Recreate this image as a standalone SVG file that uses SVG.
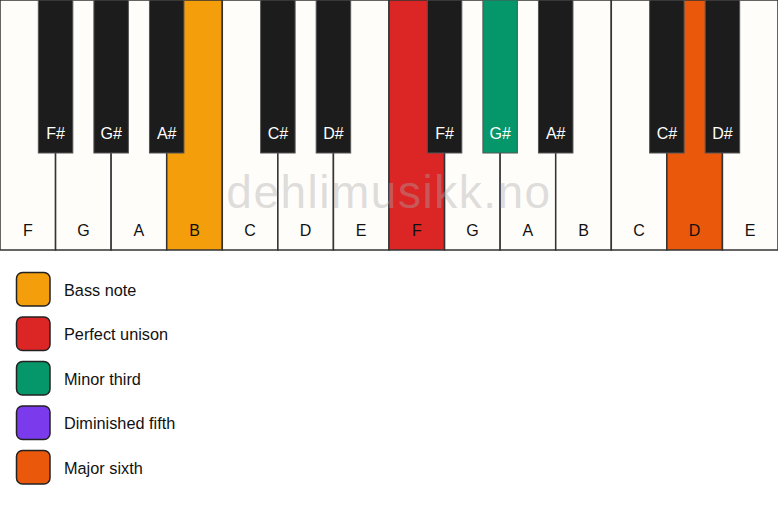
<svg xmlns="http://www.w3.org/2000/svg" width="778" height="506" viewBox="0 0 778 506">
<style>
.w{fill:#fffdf9;stroke:#333;stroke-width:1.5}
.b{fill:#1c1c1c;stroke:#555;stroke-width:1}
.wl{font-family:"Liberation Sans",Arial,sans-serif;font-size:16px;fill:#111;text-anchor:middle}
.bl{font-family:"Liberation Sans",Arial,sans-serif;font-size:16px;fill:#fff;text-anchor:middle}
.sw{stroke:#222;stroke-width:1.5}
.lt{font-family:"Liberation Sans",Arial,sans-serif;font-size:16.3px;fill:#111}
.wm{font-family:"Liberation Sans",Arial,sans-serif;font-size:46px;letter-spacing:1.5px;fill:#aaa;fill-opacity:0.4;text-anchor:middle}
</style>
<rect width="778" height="506" fill="#ffffff"/>
<g id="white-keys">
<g id="wk-F1"><rect class="w" x="0" y="0" width="55.57" height="250"/><text class="wl" x="27.8" y="236">F</text></g>
<g id="wk-G1"><rect class="w" x="55.57" y="0" width="55.57" height="250"/><text class="wl" x="83.4" y="236">G</text></g>
<g id="wk-A1"><rect class="w" x="111.14" y="0" width="55.57" height="250"/><text class="wl" x="138.9" y="236">A</text></g>
<g id="wk-B1"><rect class="w" x="166.71" y="0" width="55.57" height="250" style="fill:#f59e0b"/><text class="wl" x="194.5" y="236">B</text></g>
<g id="wk-C1"><rect class="w" x="222.29" y="0" width="55.57" height="250"/><text class="wl" x="250.1" y="236">C</text></g>
<g id="wk-D1"><rect class="w" x="277.86" y="0" width="55.57" height="250"/><text class="wl" x="305.6" y="236">D</text></g>
<g id="wk-E1"><rect class="w" x="333.43" y="0" width="55.57" height="250"/><text class="wl" x="361.2" y="236">E</text></g>
<g id="wk-F2"><rect class="w" x="389" y="0" width="55.57" height="250" style="fill:#dc2626"/><text class="wl" x="416.8" y="236">F</text></g>
<g id="wk-G2"><rect class="w" x="444.57" y="0" width="55.57" height="250"/><text class="wl" x="472.4" y="236">G</text></g>
<g id="wk-A2"><rect class="w" x="500.14" y="0" width="55.57" height="250"/><text class="wl" x="527.9" y="236">A</text></g>
<g id="wk-B2"><rect class="w" x="555.71" y="0" width="55.57" height="250"/><text class="wl" x="583.5" y="236">B</text></g>
<g id="wk-C2"><rect class="w" x="611.29" y="0" width="55.57" height="250"/><text class="wl" x="639.1" y="236">C</text></g>
<g id="wk-D2"><rect class="w" x="666.86" y="0" width="55.57" height="250" style="fill:#ea580c"/><text class="wl" x="694.6" y="236">D</text></g>
<g id="wk-E2"><rect class="w" x="722.43" y="0" width="55.57" height="250"/><text class="wl" x="750.2" y="236">E</text></g>
</g>
<text id="watermark" class="wm" x="389" y="208">dehlimusikk.no</text>
<g id="black-keys">
<g id="bk-Fs1"><rect class="b" x="38.32" y="0" width="34.5" height="153"/><text class="bl" x="55.57" y="139">F#</text></g>
<g id="bk-Gs1"><rect class="b" x="93.89" y="0" width="34.5" height="153"/><text class="bl" x="111.14" y="139">G#</text></g>
<g id="bk-As1"><rect class="b" x="149.46" y="0" width="34.5" height="153"/><text class="bl" x="166.71" y="139">A#</text></g>
<g id="bk-Cs1"><rect class="b" x="260.61" y="0" width="34.5" height="153"/><text class="bl" x="277.86" y="139">C#</text></g>
<g id="bk-Ds1"><rect class="b" x="316.18" y="0" width="34.5" height="153"/><text class="bl" x="333.43" y="139">D#</text></g>
<g id="bk-Fs2"><rect class="b" x="427.32" y="0" width="34.5" height="153"/><text class="bl" x="444.57" y="139">F#</text></g>
<g id="bk-Gs2"><rect class="b" x="482.89" y="0" width="34.5" height="153" style="fill:#059669"/><text class="bl" x="500.14" y="139">G#</text></g>
<g id="bk-As2"><rect class="b" x="538.46" y="0" width="34.5" height="153"/><text class="bl" x="555.71" y="139">A#</text></g>
<g id="bk-Cs2"><rect class="b" x="649.61" y="0" width="34.5" height="153"/><text class="bl" x="666.86" y="139">C#</text></g>
<g id="bk-Ds2"><rect class="b" x="705.18" y="0" width="34.5" height="153"/><text class="bl" x="722.43" y="139">D#</text></g>
</g>
<g id="legend">
<g id="lg-bass"><rect class="sw" x="16.5" y="272.5" width="33.5" height="33.5" rx="6" fill="#f59e0b"/><text class="lt" x="64" y="295.5">Bass note</text></g>
<g id="lg-unison"><rect class="sw" x="16.5" y="317" width="33.5" height="33.5" rx="6" fill="#dc2626"/><text class="lt" x="64" y="340">Perfect unison</text></g>
<g id="lg-minor3"><rect class="sw" x="16.5" y="361.5" width="33.5" height="33.5" rx="6" fill="#059669"/><text class="lt" x="64" y="384.5">Minor third</text></g>
<g id="lg-dim5"><rect class="sw" x="16.5" y="406" width="33.5" height="33.5" rx="6" fill="#7c3aed"/><text class="lt" x="64" y="429">Diminished fifth</text></g>
<g id="lg-maj6"><rect class="sw" x="16.5" y="450.5" width="33.5" height="33.5" rx="6" fill="#ea580c"/><text class="lt" x="64" y="473.5">Major sixth</text></g>
</g>
</svg>
